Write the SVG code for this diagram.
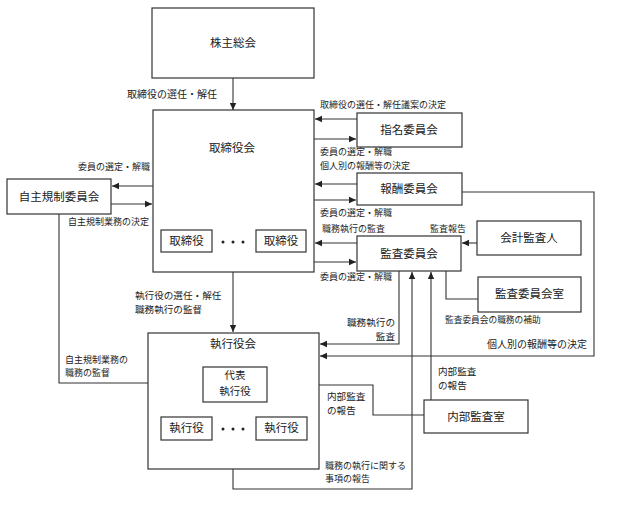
<svg xmlns="http://www.w3.org/2000/svg" width="642" height="513" viewBox="0 0 642 513">
<defs>
<marker id="ah" markerWidth="8" markerHeight="8" refX="7" refY="4" orient="auto" markerUnits="userSpaceOnUse">
<path d="M0,0.8 L7,4 L0,7.2 Z" fill="#222"/>
</marker>
<style>
.box{fill:#fff;stroke:#333;stroke-width:1.2}
.ln{fill:none;stroke:#333;stroke-width:1.1}
.ar{marker-end:url(#ah)}
text{font-family:"Noto Sans CJK JP","Noto Sans CJK SC",sans-serif;fill:#222}
.t{font-size:11.5px;text-anchor:middle}
.s{font-size:9px}
.m{font-size:10px}
.m2{font-size:9.6px}
.e{text-anchor:end}
</style>
</defs>
<rect width="642" height="513" fill="#fff"/>

<g id="connectors">
<path class="ln ar" d="M233,78 V110"/>
<path class="ln ar" d="M357,119 H315"/>
<path class="ln ar" d="M314,139 H356"/>
<path class="ln ar" d="M357,184 H315"/>
<path class="ln ar" d="M314,200 H356"/>
<path class="ln ar" d="M357,243 H315"/>
<path class="ln ar" d="M314,262 H356"/>
<path class="ln ar" d="M477,243 H462"/>
<path class="ln" d="M446,271 V299 H478"/>
<path class="ln ar" d="M153,186 H112"/>
<path class="ln ar" d="M111,204 H152"/>
<path class="ln ar" d="M59,214 V383 H202"/>
<path class="ln ar" d="M233,272 V332"/>
<path class="ln ar" d="M399,271 V344 H320"/>
<path class="ln ar" d="M461,192 H594 V356 H320"/>
<path class="ln ar" d="M431,400 V272"/>
<path class="ln ar" d="M424,415 H373 V385 H268"/>
<path class="ln" d="M191,440 V451 H285 V440"/>
<path class="ln ar" d="M233,451 V489 H412 V272"/>
</g>

<g id="kabunushi">
<rect class="box" x="152" y="8" width="162" height="70"/>
<text class="t" x="233" y="47">株主総会</text>
</g>

<g id="torishimariyakukai">
<rect class="box" x="153" y="110" width="161" height="162"/>
<text class="t" x="232" y="152">取締役会</text>
<g id="torishimariyaku1">
<rect class="box" x="161" y="230" width="51" height="22"/>
<text class="t" x="186.5" y="245">取締役</text>
</g>
<g id="dots1" fill="#222">
<circle cx="223" cy="242" r="1.5"/><circle cx="233" cy="242" r="1.5"/><circle cx="243" cy="242" r="1.5"/>
</g>
<g id="torishimariyaku2">
<rect class="box" x="256" y="230" width="50" height="22"/>
<text class="t" x="281" y="245">取締役</text>
</g>
</g>

<g id="shimei">
<rect class="box" x="357" y="113" width="105" height="34"/>
<text class="t" x="409" y="134">指名委員会</text>
</g>

<g id="hoshu">
<rect class="box" x="357" y="173" width="105" height="32"/>
<text class="t" x="409" y="193">報酬委員会</text>
</g>

<g id="kansa">
<rect class="box" x="357" y="236" width="104" height="35"/>
<text class="t" x="409" y="258">監査委員会</text>
</g>

<g id="kaikeikansanin">
<rect class="box" x="477" y="221" width="104" height="34"/>
<text class="t" x="529" y="242">会計監査人</text>
</g>

<g id="kansashitsu">
<rect class="box" x="478" y="277" width="103" height="35"/>
<text class="t" x="529.5" y="298">監査委員会室</text>
</g>

<g id="jishukisei">
<rect class="box" x="7" y="179" width="104" height="35"/>
<text class="t" x="59" y="201">自主規制委員会</text>
</g>

<g id="shikkoyakukai">
<rect class="box" x="148" y="333" width="171" height="136"/>
<text class="t" x="233" y="348">執行役会</text>
<g id="daihyo">
<rect class="box" x="203" y="367" width="64" height="35"/>
<text class="t" x="235" y="379" style="font-size:10.5px">代表</text>
<text class="t" x="235" y="394.5" style="font-size:10.5px">執行役</text>
</g>
<g id="shikkoyaku1">
<rect class="box" x="161" y="417" width="51" height="23"/>
<text class="t" x="186.5" y="432">執行役</text>
</g>
<g id="dots2" fill="#222">
<circle cx="223" cy="429" r="1.5"/><circle cx="233" cy="429" r="1.5"/><circle cx="243" cy="429" r="1.5"/>
</g>
<g id="shikkoyaku2">
<rect class="box" x="256" y="417" width="51" height="23"/>
<text class="t" x="281.5" y="432">執行役</text>
</g>
</g>

<g id="naibukansa">
<rect class="box" x="424" y="400" width="104" height="33"/>
<text class="t" x="476" y="421">内部監査室</text>
</g>

<g id="labels">
<text class="m" x="127" y="98">取締役の選任・解任</text>
<text class="s" x="320" y="108">取締役の選任・解任議案の決定</text>
<text class="s" x="320" y="155">委員の選定・解職</text>
<text class="s" x="320" y="168.5">個人別の報酬等の決定</text>
<text class="s" x="320" y="216">委員の選定・解職</text>
<text class="s" x="322" y="232">職務執行の監査</text>
<text class="s" x="430" y="232">監査報告</text>
<text class="s" x="320" y="280">委員の選定・解職</text>
<text class="s" x="78" y="170">委員の選定・解職</text>
<text class="s" x="68" y="225">自主規制業務の決定</text>
<text class="s" x="65" y="363">自主規制業務の</text>
<text class="s" x="65" y="376">職務の監督</text>
<text class="m2" x="135" y="299">執行役の選任・解任</text>
<text class="m2" x="135" y="312.5">職務執行の監督</text>
<text class="m2 e" x="395" y="326">職務執行の</text>
<text class="m2 e" x="395" y="339.5">監査</text>
<text class="s" x="445" y="323" style="font-size:8.7px">監査委員会の職務の補助</text>
<text class="m e" x="587" y="348">個人別の報酬等の決定</text>
<text class="m2" x="438" y="375">内部監査</text>
<text class="m2" x="438" y="388.5">の報告</text>
<text class="m2" x="327" y="400">内部監査</text>
<text class="m2" x="327" y="413.5">の報告</text>
<text class="s" x="325" y="469">職務の執行に関する</text>
<text class="s" x="325" y="482">事項の報告</text>
</g>
</svg>
